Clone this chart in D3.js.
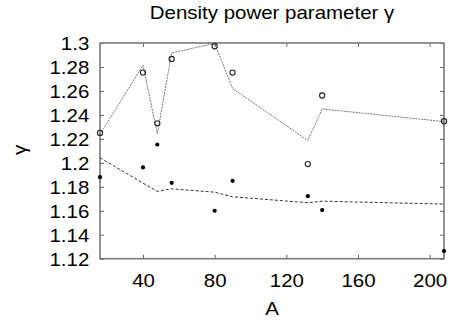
<!DOCTYPE html>
<html>
<head>
<meta charset="utf-8">
<script src="https://cdn.jsdelivr.net/npm/d3@7"></script>
<style>
  body { margin: 0; background: #fff; }
  text { font-family: "Liberation Sans", Arial, sans-serif; fill: #000; }
</style>
</head>
<body>
<div id="chart"></div>
<script>
// mass numbers
const massA = [16, 40, 48, 56, 80, 90, 132, 140, 208];
// open circles and the dotted fit line through them
const openPts = [1.225, 1.2753, 1.233, 1.2867, 1.2973, 1.2753, 1.199, 1.2562, 1.2347];
const dottedFit = [1.2237, 1.2814, 1.2242, 1.2917, 1.2997, 1.262, 1.2186, 1.245, 1.2344];
// filled dots and the dashed fit line
const filledPts = [1.188, 1.1962, 1.2153, 1.1833, 1.16, 1.185, 1.1722, 1.1606, 1.1264];
const dashedFit = [1.2042, 1.1831, 1.1762, 1.1783, 1.1755, 1.1717, 1.1667, 1.168, 1.1656];

const xTicks = [40, 80, 120, 160, 200];
const yTicks = [1.12, 1.14, 1.16, 1.18, 1.2, 1.22, 1.24, 1.26, 1.28, 1.3];

const W = 451, H = 324;
const margin = {top: 43, right: 7, bottom: 65.3, left: 100};
const w = W - margin.left - margin.right;
const h = H - margin.top - margin.bottom;
const sx = 1.17; // gnuplot text is stretched a bit wider

const svg = d3.select('#chart').append('svg')
    .attr('width', W).attr('height', H);

const g = svg.append('g')
    .attr('transform', `translate(${margin.left},${margin.top})`);

const x = d3.scaleLinear().domain([16, 208]).range([0, w]);
const y = d3.scaleLinear().domain([1.12, 1.3]).range([h, 0]);

// ticks pointing inwards, mirrored on all sides
function styleAxis(sel) {
  sel.select('.domain').remove();
  sel.selectAll('.tick line').attr('stroke', '#666').attr('stroke-width', 1);
}

g.append('g').attr('transform', `translate(0,${h})`)
    .call(d3.axisBottom(x).tickValues(xTicks).tickSizeInner(-4).tickSizeOuter(0).tickPadding(0))
    .call(styleAxis)
    .call(s => s.selectAll('text')
        .attr('y', 28).attr('dy', 0)
        .attr('font-size', 17.5)
        .attr('transform', `scale(${sx},1)`));

g.append('g')
    .call(d3.axisTop(x).tickValues(xTicks).tickSizeInner(-4).tickSizeOuter(0).tickFormat(''))
    .call(styleAxis);

g.append('g')
    .call(d3.axisLeft(y).tickValues(yTicks).tickSizeInner(-4).tickSizeOuter(0).tickFormat(d3.format('')))
    .call(styleAxis)
    .call(s => s.selectAll('text')
        .attr('x', -10.7 / sx).attr('dy', '0.36em')
        .attr('font-size', 17.5)
        .attr('transform', `scale(${sx},1)`));

g.append('g').attr('transform', `translate(${w},0)`)
    .call(d3.axisRight(y).tickValues(yTicks).tickSizeInner(-4).tickSizeOuter(0).tickFormat(''))
    .call(styleAxis);

// border box
g.append('rect')
    .attr('width', w).attr('height', h)
    .attr('fill', 'none').attr('stroke', '#777').attr('stroke-width', 1.6);

const line = d3.line().x((d, i) => x(massA[i])).y(d => y(d));

g.append('path').datum(dottedFit)
    .attr('d', line)
    .attr('fill', 'none').attr('stroke', '#777').attr('stroke-width', 1)
    .attr('stroke-dasharray', '2,1');

g.append('path').datum(dashedFit)
    .attr('d', line)
    .attr('fill', 'none').attr('stroke', '#333').attr('stroke-width', 1)
    .attr('stroke-dasharray', '3,2');

g.selectAll('.open').data(openPts).join('circle')
    .attr('class', 'open')
    .attr('cx', (d, i) => x(massA[i])).attr('cy', d => y(d))
    .attr('r', 2.6)
    .attr('fill', 'none').attr('stroke', '#222').attr('stroke-width', 1.1);

g.selectAll('.filled').data(filledPts).join('circle')
    .attr('class', 'filled')
    .attr('cx', (d, i) => x(massA[i])).attr('cy', d => y(d))
    .attr('r', 2.1)
    .attr('fill', '#000');

// title and axis labels
svg.append('text')
    .attr('transform', `translate(272,19.3) scale(${sx},1)`)
    .attr('text-anchor', 'middle').attr('font-size', 17.5)
    .text('Density power parameter γ');

svg.append('text')
    .attr('transform', `translate(272,315) scale(${sx},1)`)
    .attr('text-anchor', 'middle').attr('font-size', 17.5)
    .text('A');

svg.append('text')
    .attr('transform', `translate(26,150) rotate(-90) scale(${sx},1)`)
    .attr('text-anchor', 'middle').attr('font-size', 17.5)
    .text('γ');
</script>
</body>
</html>
